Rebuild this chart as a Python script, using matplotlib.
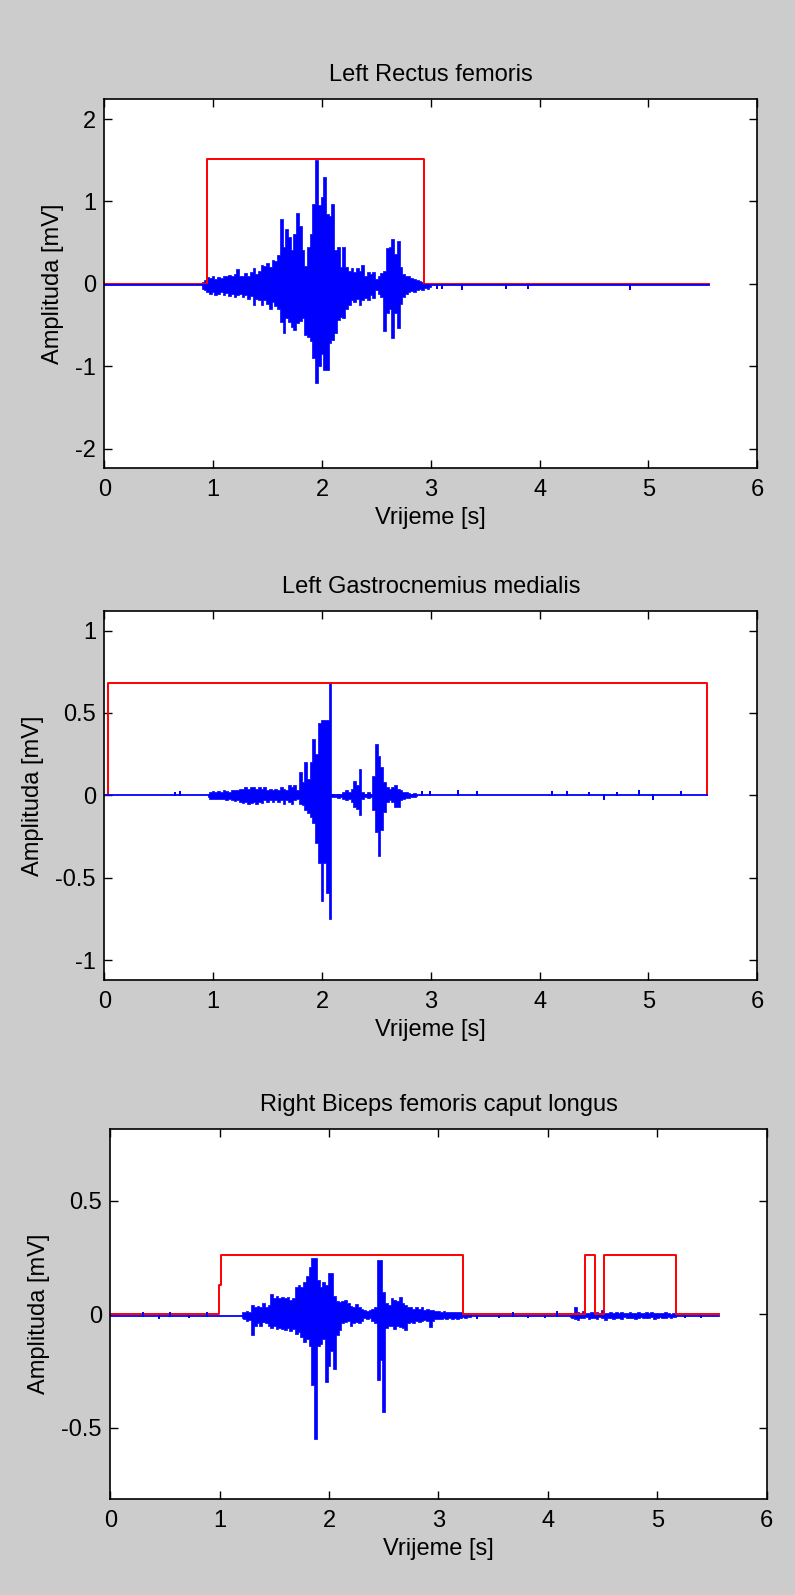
import numpy as np
import matplotlib
matplotlib.use("Agg")
import matplotlib.pyplot as plt
from matplotlib.ticker import FormatStrFormatter

plt.rcParams['font.family'] = ['Liberation Sans', 'DejaVu Sans']
plt.rcParams['axes.unicode_minus'] = False

# EMG traces are stored min/max decimated: one (max, min) pair per bin
DT = 0.025

# Left Rectus femoris
rf_title = "Left Rectus femoris"
rf_start = 0.90
rf_hi = [0.02, 0.05, 0.08, 0.07, 0.09, 0.06, 0.08, 0.07, 0.09, 0.10,
         0.11, 0.09, 0.12, 0.18, 0.10, 0.09, 0.13, 0.10, 0.14, 0.19,
         0.12, 0.16, 0.23, 0.22, 0.25, 0.20, 0.29, 0.28, 0.35, 0.79,
         0.45, 0.67, 0.57, 0.41, 0.60, 0.86, 0.70, 0.41, 0.22, 0.45,
         0.60, 0.97, 1.50, 0.96, 1.05, 1.30, 0.85, 0.82, 0.97, 0.41,
         0.45, 0.21, 0.45, 0.20, 0.15, 0.19, 0.14, 0.19, 0.16, 0.23,
         0.10, 0.14, 0.12, 0.14, 0.06, 0.10, 0.13, 0.15, 0.43, 0.45,
         0.55, 0.36, 0.52, 0.20, 0.12, 0.10, 0.09, 0.07, 0.06, 0.05,
         0.04, 0.02, 0.01, 0.00, -0.01]
rf_lo = [-0.06, -0.08, -0.10, -0.12, -0.10, -0.14, -0.12, -0.10, -0.13, -0.11,
         -0.15, -0.12, -0.16, -0.13, -0.12, -0.16, -0.14, -0.18, -0.15, -0.26,
         -0.18, -0.20, -0.26, -0.20, -0.24, -0.30, -0.22, -0.27, -0.30, -0.46,
         -0.60, -0.42, -0.46, -0.52, -0.56, -0.48, -0.45, -0.42, -0.62, -0.64,
         -0.70, -0.90, -1.20, -1.00, -0.85, -1.05, -1.05, -0.72, -0.68, -0.60,
         -0.44, -0.40, -0.42, -0.30, -0.26, -0.20, -0.22, -0.18, -0.26, -0.20,
         -0.17, -0.20, -0.14, -0.17, -0.08, -0.12, -0.16, -0.57, -0.36, -0.30,
         -0.66, -0.36, -0.54, -0.25, -0.16, -0.12, -0.10, -0.09, -0.10, -0.07,
         -0.06, -0.07, -0.05, -0.06, -0.04]
rf_blip_t = [3.06, 3.10, 3.29, 3.69, 3.89, 4.83]
rf_blip_v = [-0.05, -0.045, -0.06, -0.045, -0.045, -0.06]
rf_base = -0.02
rf_end = 5.56
rf_on_t = [0.0, 0.94, 2.94, 5.56]
rf_on_v = [0.0, 1.51, 0.0, 0.0]

# Left Gastrocnemius medialis
gm_title = "Left Gastrocnemius medialis"
gm_start = 0.95
gm_hi = [0.01, 0.02, 0.025, 0.02, 0.025, 0.02, 0.03, 0.025, 0.02, 0.03,
         0.03, 0.03, 0.04, 0.04, 0.05, 0.04, 0.05, 0.05, 0.04, 0.05,
         0.04, 0.05, 0.03, 0.04, 0.03, 0.04, 0.03, 0.05, 0.04, 0.03,
         0.06, 0.05, 0.06, 0.03, 0.14, 0.08, 0.20, 0.10, 0.20, 0.34,
         0.25, 0.44, 0.46, 0.46, 0.46, 0.68, 0.01, 0.005, 0.01, 0.005,
         0.02, 0.03, 0.02, 0.04, 0.09, 0.06, 0.16, 0.02, 0.01, 0.02,
         0.01, 0.12, 0.31, 0.24, 0.17, 0.08, 0.05, 0.04, 0.05, 0.06,
         0.04, 0.03, 0.02, 0.02, 0.015, 0.01, 0.015, 0.005]
gm_lo = [-0.01, -0.02, -0.02, -0.025, -0.02, -0.025, -0.025, -0.03, -0.025, -0.03,
         -0.035, -0.03, -0.04, -0.045, -0.04, -0.05, -0.045, -0.04, -0.05, -0.04,
         -0.045, -0.03, -0.04, -0.03, -0.04, -0.03, -0.04, -0.03, -0.05, -0.03,
         -0.04, -0.05, -0.03, -0.02, -0.05, -0.06, -0.09, -0.11, -0.13, -0.17,
         -0.29, -0.41, -0.64, -0.41, -0.59, -0.75, -0.01, -0.01, -0.015, -0.01,
         -0.02, -0.03, -0.02, -0.04, -0.07, -0.08, -0.12, -0.02, -0.01, -0.015,
         -0.01, -0.09, -0.22, -0.37, -0.21, -0.10, -0.04, -0.03, -0.04, -0.07,
         -0.07, -0.03, -0.02, -0.015, -0.015, -0.01, -0.01, -0.005]
gm_blip_t = [0.65, 0.70, 2.92, 2.99, 3.25, 3.42, 4.11, 4.25, 4.45, 4.59,
             4.71, 4.91, 5.04, 5.30]
gm_blip_v = [0.015, 0.02, 0.02, 0.02, 0.025, 0.02, 0.02, 0.02, 0.015, -0.02,
             0.015, 0.025, -0.02, 0.02]
gm_base = 0.0
gm_end = 5.54
gm_on_t = [0.0, 0.03, 5.535, 5.54]
gm_on_v = [0.0, 0.68, 0.0, 0.0]

# Right Biceps femoris caput longus (two active stretches)
pb_title = "Right Biceps femoris caput longus"
pb_start = 1.20
pb_hi = [0.010, 0.012, 0.015, 0.012, 0.040, 0.030, 0.035, 0.030, 0.050, 0.030,
         0.040, 0.090, 0.070, 0.080, 0.070, 0.075, 0.070, 0.075, 0.065, 0.070,
         0.120, 0.130, 0.120, 0.140, 0.170, 0.210, 0.250, 0.250, 0.150, 0.120,
         0.140, 0.130, 0.180, 0.180, 0.080, 0.060, 0.055, 0.060, 0.065, 0.050,
         0.035, 0.030, 0.045, 0.030, 0.025, 0.018, 0.015, 0.020, 0.025, 0.030,
         0.240, 0.240, 0.100, 0.050, 0.040, 0.070, 0.065, 0.060, 0.075, 0.050,
         0.040, 0.030, 0.030, 0.025, 0.030, 0.025, 0.030, 0.020, 0.025, 0.020,
         0.020, 0.015, 0.015, 0.012, 0.015, 0.010, 0.012, 0.010, 0.008, 0.010,
         0.008, 0.006, 0.005, 0.004, 0.000]
pb_lo = [-0.015, -0.020, -0.030, -0.025, -0.090, -0.050, -0.040, -0.050, -0.035, -0.040,
         -0.050, -0.060, -0.050, -0.065, -0.060, -0.065, -0.070, -0.060, -0.075, -0.065,
         -0.085, -0.080, -0.100, -0.120, -0.110, -0.140, -0.310, -0.550, -0.140, -0.130,
         -0.110, -0.300, -0.230, -0.160, -0.240, -0.090, -0.070, -0.040, -0.035, -0.030,
         -0.050, -0.040, -0.035, -0.040, -0.030, -0.015, -0.020, -0.015, -0.030, -0.040,
         -0.290, -0.200, -0.430, -0.060, -0.050, -0.050, -0.065, -0.050, -0.055, -0.060,
         -0.070, -0.040, -0.035, -0.040, -0.030, -0.035, -0.030, -0.025, -0.030, -0.055,
         -0.030, -0.020, -0.020, -0.020, -0.015, -0.020, -0.015, -0.020, -0.015, -0.020,
         -0.015, -0.012, -0.015, -0.012, -0.012]
pb_start2 = 4.20
pb_hi2 = [0.000, 0.003, 0.032, 0.010, 0.005, 0.015, 0.004, 0.006, 0.012, 0.004,
          0.008, 0.005, 0.020, 0.006, 0.004, 0.010, 0.005, 0.008, 0.006, 0.012,
          0.004, 0.006, 0.010, 0.004, 0.005, 0.012, 0.006, 0.004, 0.008, 0.004,
          0.010, 0.005, 0.004, 0.006, 0.004, 0.008, 0.004, 0.003, 0.005, 0.002]
pb_lo2 = [-0.012, -0.015, -0.020, -0.025, -0.015, -0.018, -0.014, -0.022, -0.016, -0.015,
          -0.020, -0.014, -0.018, -0.025, -0.015, -0.016, -0.022, -0.015, -0.016, -0.020,
          -0.014, -0.018, -0.015, -0.016, -0.020, -0.015, -0.014, -0.018, -0.015, -0.016,
          -0.014, -0.020, -0.015, -0.014, -0.016, -0.015, -0.014, -0.018, -0.013, -0.012]
pb_blip_t = [0.30, 0.45, 0.55, 0.72, 0.88, 3.35, 3.55, 3.68, 3.82, 3.97, 4.08, 5.25, 5.40]
pb_blip_v = [0.004, -0.015, 0.004, -0.014, 0.004, -0.016, -0.012, 0.005, -0.014,
             -0.012, 0.008, -0.014, -0.012]
pb_base = -0.006
pb_end = 5.567
pb_on_t = [0.0, 0.995, 1.015, 3.22, 4.335, 4.43, 4.515, 5.17, 5.567]
pb_on_v = [0.0, 0.13, 0.26, 0.0, 0.26, 0.0, 0.26, 0.0, 0.0]


def baseline_trace(blip_t, blip_v, base, t_end):
    # flat resting signal with the isolated spikes outside the bursts
    pts = [(0.0, base)]
    for t, v in sorted(zip(blip_t, blip_v)):
        pts += [(t, base), (t, v), (t, base)]
    pts.append((t_end, base))
    x, y = zip(*pts)
    return x, y


def draw_emg(ax, segments, blip_t, blip_v, base, t_end):
    bx, by = baseline_trace(blip_t, blip_v, base, t_end)
    ax.plot(bx, by, color='blue', lw=1.3)
    for t0, hi, lo in segments:
        t = t0 + DT * np.arange(len(hi))
        ax.fill_between(t, lo, hi, step='mid', facecolor='blue',
                        edgecolor='blue', lw=0.5)


def style_panel(ax, title, ylim, yticks):
    ax.set_xlim(0, 6)
    ax.set_ylim(-ylim, ylim)
    ax.set_xticks(range(7))
    ax.set_yticks(yticks)
    ax.yaxis.set_major_formatter(FormatStrFormatter('%g'))
    ax.tick_params(direction='in', top=True, right=True, length=6, width=1,
                   labelsize=17)
    ax.tick_params(axis='x', pad=8)
    ax.tick_params(axis='y', pad=6)
    for s in ax.spines.values():
        s.set_linewidth(1.2)
    ax.set_title(title, fontsize=17, pad=13)
    ax.set_xlabel("Vrijeme [s]", fontsize=17, labelpad=4)
    ax.set_ylabel("Amplituda [mV]", fontsize=17, labelpad=8)


fig = plt.figure(figsize=(7.95, 15.95), dpi=100, facecolor='#cccccc')

ax1 = fig.add_axes([0.1312, 0.7064, 0.8214, 0.2313])
ax2 = fig.add_axes([0.1312, 0.3856, 0.8214, 0.2315])
ax3 = fig.add_axes([0.1387, 0.0600, 0.8257, 0.2320])

ax1.step(rf_on_t, rf_on_v, where='post', color='red', lw=1.4)
draw_emg(ax1, [(rf_start, rf_hi, rf_lo)], rf_blip_t, rf_blip_v, rf_base, rf_end)
style_panel(ax1, rf_title, 2.24, [-2, -1, 0, 1, 2])

ax2.step(gm_on_t, gm_on_v, where='post', color='red', lw=1.4)
draw_emg(ax2, [(gm_start, gm_hi, gm_lo)], gm_blip_t, gm_blip_v, gm_base, gm_end)
style_panel(ax2, gm_title, 1.12, [-1, -0.5, 0, 0.5, 1])

ax3.step(pb_on_t, pb_on_v, where='post', color='red', lw=1.4)
draw_emg(ax3, [(pb_start, pb_hi, pb_lo), (pb_start2, pb_hi2, pb_lo2)],
         pb_blip_t, pb_blip_v, pb_base, pb_end)
style_panel(ax3, pb_title, 0.815, [-0.5, 0, 0.5])

fig.savefig("out.png", dpi=100, facecolor=fig.get_facecolor())
